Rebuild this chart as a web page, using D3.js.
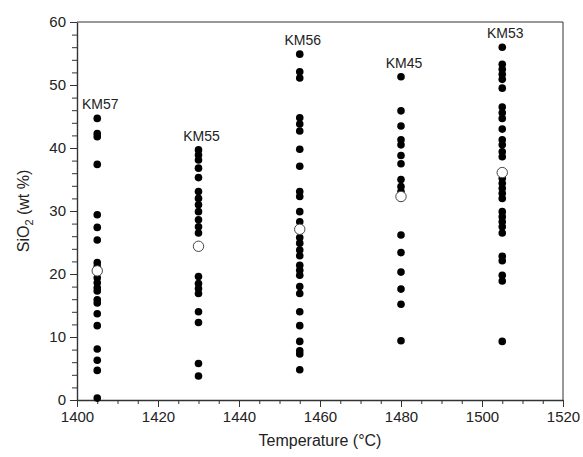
<!doctype html>
<html>
<head>
  <meta charset="utf-8">
  <title>SiO2 vs temperature</title>
  <style>
    body { margin: 0; background: #fff; }
    svg text { font-family: "Liberation Sans", Arial, sans-serif; fill: #222; }
  </style>
</head>
<body>
  <div id="vis"></div>
  <script src="https://cdn.jsdelivr.net/npm/d3@7"></script>
  <script>

    var samples = ["KM57", "KM55", "KM56", "KM45", "KM53"];
    var temps = [1405, 1430, 1455, 1480, 1505];

    var km57 = [44.7, 42.3, 41.8, 37.4, 29.4, 27.4, 25.4, 21.8, 21.2, 19.4, 18.6, 17.8, 17.3,
                15.9, 15.4, 13.7, 11.8, 8.1, 6.3, 4.7, 0.3];
    var km55 = [39.7, 38.9, 38.1, 36.8, 35.3, 33.1, 32.0, 31.0, 29.9, 28.6, 27.5, 26.5,
                19.6, 18.5, 17.7, 16.9, 14.0, 12.3, 5.8, 3.8];
    var km56 = [54.9, 52.1, 51.1, 44.8, 43.8, 42.7, 39.8, 37.1, 33.1, 32.3, 29.9, 28.3,
                25.8, 24.9, 23.8, 22.9, 21.4, 20.6, 19.8, 18.0, 16.9, 14.0, 11.8, 9.3,
                7.8, 7.3, 4.8];
    var km45 = [51.3, 45.9, 43.5, 41.3, 40.5, 38.8, 37.5, 35.0, 33.9, 33.1, 26.2, 23.4,
                20.3, 17.6, 15.2, 9.4];
    var km53 = [56.0, 53.3, 52.5, 51.7, 50.9, 49.5, 46.5, 45.6, 44.7, 43.0, 41.3, 40.5,
                39.4, 38.6, 35.2, 34.4, 33.6, 32.8, 32.0, 29.9, 29.1, 28.3, 27.5, 26.5,
                22.8, 22.1, 19.8, 18.9, 9.3];
    var means = [20.5, 24.4, 27.1, 32.3, 36.1];

    var xTicks = [1400, 1420, 1440, 1460, 1480, 1500, 1520];
    var yTicks = [0, 10, 20, 30, 40, 50, 60];

    var values = [km57, km55, km56, km45, km53];

    var w = 583, h = 457;
    var margin = {top: 22, right: 20, bottom: 57, left: 77};

    var svg = d3.select("#vis").append("svg")
      .attr("width", w)
      .attr("height", h);

    var x = d3.scaleLinear()
      .domain([1400, 1520])
      .range([margin.left, w - margin.right]);

    var y = d3.scaleLinear()
      .domain([0, 60])
      .range([h - margin.bottom, margin.top]);

    // frame (top and right)
    svg.append("path")
      .attr("d", "M" + x(1400) + "," + y(60) + "H" + x(1520) + "V" + y(0))
      .attr("fill", "none")
      .attr("stroke", "#333")
      .attr("stroke-width", 1);

    // minor ticks: every 5 degrees, every 2 wt %
    svg.append("g")
      .attr("class", "minor")
      .attr("transform", "translate(0," + y(0) + ")")
      .call(d3.axisBottom(x).tickValues(d3.range(1400, 1521, 5)).tickSize(4).tickFormat(""));

    svg.append("g")
      .attr("class", "minor")
      .attr("transform", "translate(" + x(1400) + ",0)")
      .call(d3.axisLeft(y).tickValues(d3.range(0, 61, 2)).tickSize(5).tickFormat(""));

    svg.selectAll(".minor .domain").remove();

    // major ticks + labels
    svg.append("g")
      .attr("transform", "translate(0," + y(0) + ")")
      .call(d3.axisBottom(x).tickValues(xTicks).tickSize(7).tickPadding(4)
              .tickSizeOuter(0).tickFormat(d3.format("d")));

    svg.append("g")
      .attr("transform", "translate(" + x(1400) + ",0)")
      .call(d3.axisLeft(y).tickValues(yTicks).tickSize(7).tickPadding(4)
              .tickSizeOuter(0).tickFormat(d3.format("d")));

    svg.selectAll(".tick line").attr("stroke", "#333").attr("stroke-width", 1);
    svg.selectAll(".domain").attr("stroke", "#333").attr("stroke-width", 1.4);
    svg.selectAll(".tick text")
      .attr("font-size", 15)
      .attr("font-family", "Liberation Sans, Arial, sans-serif")
      .attr("fill", "#222");

    // axis titles
    svg.append("text")
      .attr("x", (x(1400) + x(1520)) / 2)
      .attr("y", 446)
      .attr("text-anchor", "middle")
      .attr("font-size", 16)
      .text("Temperature (\u00B0C)");

    var yt = svg.append("text")
      .attr("transform", "translate(29," + ((y(0) + y(60)) / 2) + ") rotate(-90)")
      .attr("text-anchor", "middle")
      .attr("font-size", 16);
    yt.append("tspan").text("SiO");
    yt.append("tspan").attr("font-size", 11).attr("dy", 4).text("2");
    yt.append("tspan").attr("dy", -4).text(" (wt %)");

    // points
    var pts = [];
    values.forEach(function(arr, i){
      arr.forEach(function(v){ pts.push({t: temps[i], v: v}); });
    });

    svg.append("g").selectAll("circle")
      .data(pts)
      .enter()
      .append("circle")
      .attr("cx", function(d){ return x(d.t); })
      .attr("cy", function(d){ return y(d.v); })
      .attr("r", 3.8)
      .attr("fill", "#000");

    // mean values (open circles)
    svg.append("g").selectAll("circle")
      .data(means)
      .enter()
      .append("circle")
      .attr("cx", function(d, i){ return x(temps[i]); })
      .attr("cy", function(d){ return y(d); })
      .attr("r", 5.2)
      .attr("fill", "#fff")
      .attr("stroke", "#444")
      .attr("stroke-width", 1);

    // sample labels
    svg.append("g").selectAll("text")
      .data(samples)
      .enter()
      .append("text")
      .attr("x", function(d, i){ return x(temps[i]) + 3; })
      .attr("y", function(d, i){ return y(d3.max(values[i])) - 9; })
      .attr("text-anchor", "middle")
      .attr("font-size", 14)
      .text(function(d){ return d; });

  </script>
</body>
</html>
